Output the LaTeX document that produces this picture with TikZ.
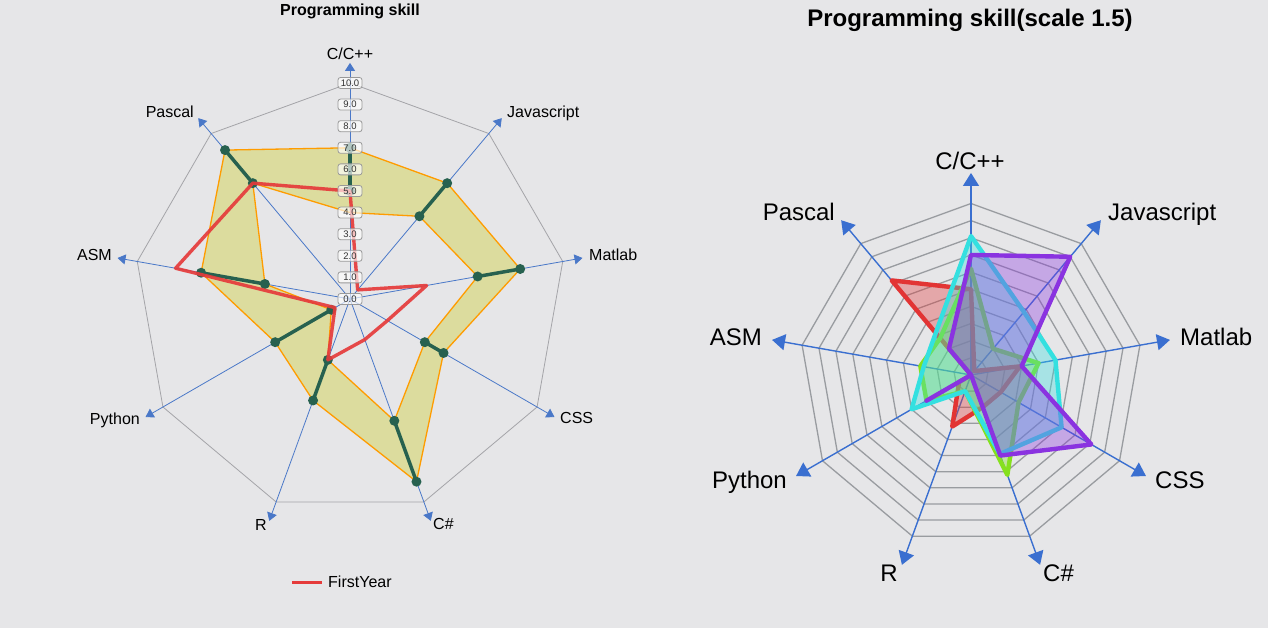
\documentclass[tikz,border=0pt]{standalone}
\usepackage{fontspec}
\setmainfont{Liberation Sans}
\usetikzlibrary{arrows.meta}
\definecolor{bg}{HTML}{E6E6E8}
\definecolor{axisblue}{HTML}{4A78C8}
\definecolor{axisblueR}{HTML}{3A6FD0}
\definecolor{gridgray}{HTML}{A4A4A8}
\definecolor{ringgray}{HTML}{999CA0}
\definecolor{bandfill}{HTML}{DCDC9E}
\definecolor{bandedge}{HTML}{FF9C00}
\definecolor{dkgreen}{HTML}{27614F}
\definecolor{fyred}{HTML}{E53B3B}
\definecolor{sred}{HTML}{E23434}
\definecolor{slime}{HTML}{86E01E}
\definecolor{scyan}{HTML}{34E0E0}
\definecolor{spurple}{HTML}{8A33E0}
\definecolor{ticktext}{HTML}{333333}
\begin{document}
\begin{tikzpicture}[x=1pt,y=1pt,
  lblL/.style={font=\fontsize{16}{18}\selectfont, inner sep=0pt},
  lblR/.style={font=\fontsize{24}{27}\selectfont, inner sep=0pt},
  axisL/.style={draw=axisblue, line width=0.8pt, -{Triangle[length=8pt,width=10pt]}},
  axisR/.style={draw=axisblueR, line width=1.4pt, -{Triangle[length=13pt,width=16pt]}},
  tickbox/.style={draw=black!40, line width=0.8pt, fill=white, fill opacity=0.65, text opacity=1,
    rounded corners=2.5pt, minimum width=24pt, minimum height=11pt, inner sep=0pt,
    text height=6.8pt, text depth=0pt, font=\fontsize{9.5}{10}\selectfont, text=ticktext},
  dumb/.style={draw=dkgreen, line width=3.5pt},
  mk/.style={fill=dkgreen},
  series/.style={draw=#1, fill=#1, fill opacity=0.35, draw opacity=1, line width=4.4pt, line join=round}
]
\fill[bg] (0,0) rectangle (1268,628);
\useasboundingbox (0,0) rectangle (1268,628);

\coordinate (CL) at (350,329);
\coordinate (CR) at (971,253);

% ================= LEFT CHART =================
\node[font=\bfseries\fontsize{16}{18}\selectfont, inner sep=0pt, anchor=base] (titleL) at (350,612) {Programming skill};

\begin{scope}[shift={(CL)}, x=21.6pt, y=21.6pt]
  \draw[gridgray, line width=0.8pt, line join=round]
    (90:10) -- (50:10) -- (10:10) -- (-30:10) -- (-70:10) -- (-110:10) -- (-150:10) -- (170:10) -- (130:10) -- cycle;
  \foreach \a in {90,50,10,-30,-70,-110,-150,170,130}
    \draw[axisL] (0,0) -- (\a:10.93);
  % area range band
  \fill[bandfill, even odd rule]
    (90:7) -- (50:7) -- (10:8) -- (-30:5) -- (-70:9) -- (-110:5) -- (-150:4) -- (170:7) -- (130:9) -- cycle
    (90:4) -- (50:5) -- (10:6) -- (-30:4) -- (-70:6) -- (-110:3) -- (-150:1) -- (170:4) -- (130:7) -- cycle;
  \draw[bandedge, line width=1.3pt, line join=round]
    (90:7) -- (50:7) -- (10:8) -- (-30:5) -- (-70:9) -- (-110:5) -- (-150:4) -- (170:7) -- (130:9) -- cycle
    (90:4) -- (50:5) -- (10:6) -- (-30:4) -- (-70:6) -- (-110:3) -- (-150:1) -- (170:4) -- (130:7) -- cycle;
  % dumbbell segments
  \foreach \a/\h/\l in {90/7/5, 50/7/5, 10/8/6, -30/5/4, -70/9/6, -110/5/3, -150/4/1, 170/7/4, 130/9/7} {
    \draw[dumb] (\a:\h) -- (\a:\l);
    \fill[mk] (\a:\h) circle[radius=5pt];
    \fill[mk] (\a:\l) circle[radius=5pt];
  }
  % FirstYear
  \draw[fyred, line width=3.4pt, line join=round, draw opacity=0.92]
    (90:5) -- (50:0.55) -- (10:3.6) -- (-30:2) -- (-70:2) -- (-110:3) -- (-150:0.8) -- (170:8.2) -- (130:7) -- cycle;
  % tick labels
  \foreach \k in {0,...,10}
    \node[tickbox] (tk\k) at (0,\k) {\k.0};
\end{scope}

\node[lblL, anchor=base] (lC) at (350,568.2) {C/C++};
\node[lblL, anchor=base west] (lJ) at (507,510.2) {Javascript};
\node[lblL, anchor=base west] (lM) at (589,367.2) {Matlab};
\node[lblL, anchor=base west] (lS) at (560,204.2) {CSS};
\node[lblL, anchor=base west] (lH) at (433,98.2) {C\#};
\node[lblL, anchor=base east] (lR) at (267,97.2) {R};
\node[lblL, anchor=base east] (lP) at (140,203.2) {Python};
\node[lblL, anchor=base east] (lA) at (112,367.2) {ASM};
\node[lblL, anchor=base east] (lPa) at (194,510.2) {Pascal};

% legend
\coordinate (legA) at (292,45.5);
\coordinate (legB) at (322,45.5);
\draw[fyred, line width=3.2pt] (legA) -- (legB);
\node[lblL, anchor=base west] (legT) at (328,40.7) {FirstYear};

% ================= RIGHT CHART =================
\node[font=\bfseries\fontsize{24}{27}\selectfont, inner sep=0pt, anchor=base] (titleR) at (970,601.4) {Programming skill(scale 1.5)};

\begin{scope}[shift={(CR)}, x=17.15pt, y=17.15pt]
  \foreach \r in {1,...,10}
    \draw[ringgray, line width=1.3pt, line join=round]
      (90:\r) -- (50:\r) -- (10:\r) -- (-30:\r) -- (-70:\r) -- (-110:\r) -- (-150:\r) -- (170:\r) -- (130:\r) -- cycle;
  \foreach \a in {90,50,10,-30,-70,-110,-150,170,130}
    \draw[axisR] (0,0) -- (\a:11.78);
  \path[series=sred]
    (90:5) -- (50:0.3) -- (10:2.9) -- (-30:2) -- (-70:2) -- (-110:3.2) -- (-150:0.8) -- (0,0) -- (130:7.2) -- cycle;
  \path[series=slime]
    (90:6.2) -- (50:2) -- (10:4) -- (-30:3.2) -- (-70:6.2) -- (-110:1) -- (-150:3) -- (170:3) -- (130:2.8) -- cycle;
  \path[series=scyan]
    (90:8.1) -- (50:4.8) -- (10:5) -- (-30:6.1) -- (-70:4.9) -- (-110:1) -- (-150:4) -- (170:2.8) -- (130:3.2) -- cycle;
  \path[series=spurple]
    (90:7) -- (50:9) -- (10:3) -- (-30:8.1) -- (-70:5) -- (0,0) -- (-150:3) -- (0,0) -- (130:2) -- cycle;
\end{scope}

\node[lblR, anchor=base] (rC) at (970,458.4) {C/C++};
\node[lblR, anchor=base west] (rJ) at (1108,407.4) {Javascript};
\node[lblR, anchor=base west] (rM) at (1180,282.4) {Matlab};
\node[lblR, anchor=base west] (rS) at (1155,139.4) {CSS};
\node[lblR, anchor=base west] (rH) at (1043,46.4) {C\#};
\node[lblR, anchor=base east] (rR) at (898,46.4) {R};
\node[lblR, anchor=base east] (rP) at (787,139.4) {Python};
\node[lblR, anchor=base east] (rA) at (762,282.4) {ASM};
\node[lblR, anchor=base east] (rPa) at (835,407.4) {Pascal};
\end{tikzpicture}
\end{document}
